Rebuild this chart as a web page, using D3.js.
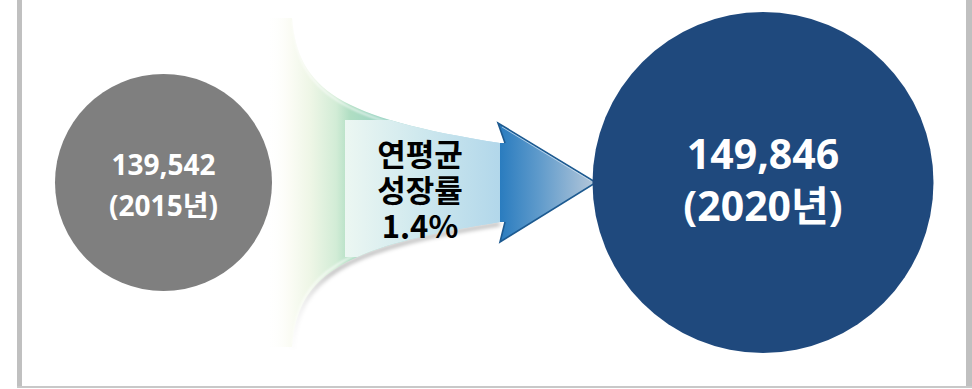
<!DOCTYPE html>
<html lang="ko">
<head>
<meta charset="utf-8">
<script src="https://cdn.jsdelivr.net/npm/d3@7"></script>
<style>
  html, body { margin: 0; padding: 0; background: #ffffff; }
  svg { display: block; }
</style>
</head>
<body>
<script>
// Annual totals for the two reference years
const years = [2015, 2020];
const values = [139542, 149846];
const yearUnit = "년";
const growthTitle = ["연평균", "성장률"];

const W = 972, H = 389;
const svg = d3.select("body").append("svg")
  .attr("width", W).attr("height", H)
  .attr("viewBox", `0 0 ${W} ${H}`);

const defs = svg.append("defs");

// Horizontal placement of the two year bubbles and their styling
const x = d3.scaleLinear().domain(d3.extent(years)).range([163.5, 763]);
const radius = d3.scaleOrdinal().domain(years).range([108.5, 170.5]);
const fill = d3.scaleOrdinal().domain(years).range(["#7f7f7f", "#1f497d"]);
const fontSize = d3.scaleOrdinal().domain(years).range([28, 41]);
const line1Dy = d3.scaleOrdinal().domain(years).range([-7.5, -14]);
const line2Dy = d3.scaleOrdinal().domain(years).range([33.5, 38.5]);
const cy = 182.5;

// Compound annual growth rate between the two years
const span = years[1] - years[0];
const cagr = Math.pow(values[1] / values[0], 1 / span) - 1;
const fmtValue = d3.format(",");
const fmtRate = d3.format(".1%");

// ---------- frame ----------
svg.append("rect").attr("x", 17).attr("y", 0).attr("width", 5).attr("height", 388).attr("fill", "#c0c0c0");
svg.append("rect").attr("x", 966).attr("y", 0).attr("width", 6).attr("height", 388).attr("fill", "#c0c0c0");
svg.append("rect").attr("x", 17).attr("y", 386).attr("width", 955).attr("height", 2).attr("fill", "#c8c8c8");

// ---------- gradients ----------
function hGrad(id, x1, x2, stops) {
  const g = defs.append("linearGradient").attr("id", id)
    .attr("gradientUnits", "userSpaceOnUse")
    .attr("x1", x1).attr("x2", x2).attr("y1", 0).attr("y2", 0);
  stops.forEach(([o, c, a]) => g.append("stop")
    .attr("offset", o).attr("stop-color", c).attr("stop-opacity", a == null ? 1 : a));
}
hGrad("funnelFill", 266, 500, [
  [0.00, "#ffffff", 0],
  [0.10, "#fbfcf5", 1],
  [0.19, "#eef6e6", 1],
  [0.30, "#d2ecd6", 1],
  [0.36, "#b0dec3", 1],
  [0.50, "#98d3c2", 1],
  [0.75, "#b4dbe3", 1],
  [1.00, "#b0d6ea", 1]
]);
hGrad("boxFill", 345, 505, [
  [0.00, "#ecf7f2"],
  [0.45, "#d0e9ee"],
  [1.00, "#b0d6ea"]
]);
hGrad("arrowFill", 500, 596, [
  [0.00, "#2a7cbf"],
  [0.40, "#5e9acb"],
  [1.00, "#b6c8da"]
]);
hGrad("shadowFade", 290, 500, [
  [0.00, "#000000", 0],
  [0.20, "#000000", 0.35],
  [1.00, "#000000", 0.35]
]);

const blur = defs.append("filter").attr("id", "blur")
  .attr("x", "-10%").attr("y", "-50%").attr("width", "120%").attr("height", "200%");
blur.append("feGaussianBlur").attr("stdDeviation", 2);

const soft = defs.append("filter").attr("id", "soft");
soft.append("feGaussianBlur").attr("stdDeviation", 0.8);

// ---------- funnel between the bubbles ----------
const topCurve = [[292, 18], [298, 90], [340, 118], [500, 143]];
const mirrorY = 365;
const botCurve = topCurve.map(([px, py]) => [px, mirrorY - py]).reverse();

const funnel = d3.path();
funnel.moveTo(266, 18);
funnel.lineTo(...topCurve[0]);
funnel.bezierCurveTo(...topCurve[1], ...topCurve[2], ...topCurve[3]);
funnel.lineTo(...botCurve[0]);
funnel.bezierCurveTo(...botCurve[1], ...botCurve[2], ...botCurve[3]);
funnel.lineTo(266, botCurve[3][1]);
funnel.closePath();

defs.append("clipPath").attr("id", "funnelClip")
  .append("path").attr("d", funnel.toString());

// soft shadow under the lower curved edge
const shade = d3.path();
shade.moveTo(botCurve[0][0], botCurve[0][1] + 2);
shade.bezierCurveTo(botCurve[1][0], botCurve[1][1] + 2, botCurve[2][0], botCurve[2][1] + 2, botCurve[3][0], botCurve[3][1] + 2);
svg.append("path").attr("d", shade.toString())
  .attr("fill", "none").attr("stroke", "url(#shadowFade)")
  .attr("stroke-width", 3).attr("filter", "url(#blur)");

svg.append("path")
  .attr("d", funnel.toString())
  .attr("fill", "url(#funnelFill)");

// inner highlight along the curved edges
const gloss = svg.append("g").attr("clip-path", "url(#funnelClip)");
[topCurve, botCurve].forEach((c, i) => {
  const off = i === 0 ? 3 : -3;
  const p = d3.path();
  p.moveTo(c[0][0] + (i === 0 ? 1 : 0), c[0][1] + off);
  p.bezierCurveTo(c[1][0], c[1][1] + off, c[2][0], c[2][1] + off, c[3][0] + (i === 1 ? 1 : 0), c[3][1] + off);
  gloss.append("path").attr("d", p.toString())
    .attr("fill", "none").attr("stroke", "#ffffff")
    .attr("stroke-width", 1.6).attr("stroke-opacity", 0.85)
    .attr("filter", "url(#soft)");
});

// label box inside the funnel
gloss.append("rect")
  .attr("x", 345).attr("y", 120).attr("width", 160).attr("height", 137)
  .attr("fill", "url(#boxFill)");

// ---------- arrow head ----------
const arrow = d3.path();
arrow.moveTo(500, 143); arrow.lineTo(505, 143); arrow.lineTo(498, 123);
arrow.lineTo(596, 182.5);
arrow.lineTo(500, 242); arrow.lineTo(505, 222); arrow.lineTo(500, 222);
arrow.closePath();
svg.append("path").attr("d", arrow.toString()).attr("fill", "url(#arrowFill)");

const arrowEdge = d3.path();
arrowEdge.moveTo(505, 143); arrowEdge.lineTo(498, 123); arrowEdge.lineTo(596, 182.5);
arrowEdge.lineTo(500, 242); arrowEdge.lineTo(505, 222);
svg.append("path").attr("d", arrowEdge.toString())
  .attr("fill", "none").attr("stroke", "#1d5a90").attr("stroke-width", 1.6)
  .attr("stroke-linejoin", "miter");
svg.append("path").attr("d", "M502,127 L590,180.5")
  .attr("stroke", "#d6e6f3").attr("stroke-width", 1).attr("stroke-opacity", 0.7);

// ---------- growth label (one text block, three lines) ----------
const midX = 420;
const growthLines = growthTitle.concat([fmtRate(cagr)]);
svg.append("text")
  .attr("font-family", "'Noto Sans CJK KR', 'Open Sans', sans-serif")
  .attr("font-weight", 700)
  .attr("font-size", 31)
  .attr("fill", "#000000")
  .attr("text-anchor", "middle")
  .selectAll("tspan")
  .data(growthLines)
  .join("tspan")
  .attr("x", midX)
  .attr("y", (d, i) => 166 + i * 36)
  .text(d => d);

// ---------- year bubbles ----------
const bubbles = svg.append("g").selectAll("g")
  .data(years.map((y, i) => ({ year: y, value: values[i] })))
  .join("g")
  .attr("transform", d => `translate(${x(d.year)},${cy})`);

bubbles.append("circle")
  .attr("r", d => radius(d.year))
  .attr("fill", d => fill(d.year));

const label = bubbles.append("text")
  .attr("text-anchor", "middle")
  .attr("fill", "#ffffff")
  .attr("font-family", "'Open Sans', 'Noto Sans CJK KR', sans-serif")
  .attr("font-weight", 700)
  .attr("font-size", d => fontSize(d.year));
label.append("tspan").attr("x", 0).attr("y", d => line1Dy(d.year))
  .text(d => fmtValue(d.value));
label.append("tspan").attr("x", 0).attr("y", d => line2Dy(d.year))
  .text(d => `(${d.year}${yearUnit})`);
</script>
</body>
</html>
